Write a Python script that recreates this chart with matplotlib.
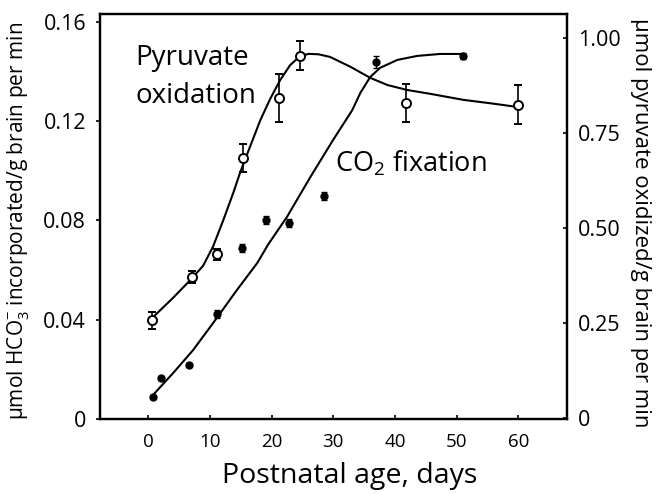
import matplotlib
matplotlib.use("Agg")
import matplotlib.pyplot as plt

plt.rcParams['font.family'] = ['Open Sans', 'DejaVu Sans']
plt.rcParams['mathtext.fontset'] = 'custom'
plt.rcParams['mathtext.rm'] = 'Open Sans'
plt.rcParams['mathtext.it'] = 'Open Sans:italic'

# ----------------------------
# Data
# ----------------------------
# CO2 fixation (filled circles, left axis, umol HCO3- / g brain / min)
co2_days = [0.8, 2.1, 6.7, 11.2, 15.2, 19.1, 22.9, 28.5, 37.0, 51.0]
co2_vals = [0.0089, 0.0165, 0.0218, 0.0423, 0.0689, 0.0802, 0.0790, 0.0899, 0.1439, 0.1462]
co2_err = [0.0008, 0.0008, 0.0008, 0.0015, 0.0015, 0.0015, 0.0015, 0.0016, 0.0025, 0.0013]

# fitted curve for CO2 fixation
co2_curve_days = [0.8, 4.05, 7.3, 10.9, 14.4, 17.7, 19.5, 22.5, 26.3, 30.0, 33.1, 34.4, 36.0,
                  37.6, 40.4, 43.6, 47.3, 51.1]
co2_curve_vals = [0.0097, 0.0185, 0.0278, 0.0399, 0.0520, 0.0629, 0.0705, 0.0814, 0.0975, 0.1125,
                  0.1245, 0.1314, 0.1378, 0.1415, 0.1447, 0.1463, 0.1471, 0.1471]

# Pyruvate oxidation (open circles, right axis, umol pyruvate / g brain / min)
pyr_days = [0.6, 7.1, 11.2, 15.3, 21.2, 24.6, 41.8, 60.0]
pyr_vals = [0.257, 0.370, 0.430, 0.684, 0.842, 0.953, 0.829, 0.824]
pyr_err = [0.022, 0.016, 0.014, 0.038, 0.064, 0.038, 0.050, 0.051]

# fitted curve for pyruvate oxidation
pyr_curve_days = [0.6, 4.05, 6.8, 8.9, 10.5, 12.2, 13.8, 14.9, 16.5, 18.2, 19.8, 21.4, 23.0, 24.6,
                  26.0, 27.6, 29.5, 32.8, 36.0, 38.8, 42.0, 45.7, 51.1, 55.5, 60.0]
pyr_curve_vals = [0.262, 0.316, 0.362, 0.400, 0.450, 0.521, 0.592, 0.645, 0.713, 0.784, 0.840, 0.889,
                  0.928, 0.952, 0.958, 0.957, 0.950, 0.924, 0.895, 0.876, 0.863, 0.853,
                  0.837, 0.828, 0.818]

xticks = [0, 10, 20, 30, 40, 50, 60]
left_ticks = [0, 0.04, 0.08, 0.12, 0.16]
left_labels = ["0", "0.04", "0.08", "0.12", "0.16"]
right_ticks = [0, 0.25, 0.5, 0.75, 1.0]
right_labels = ["0", "0.25", "0.50", "0.75", "1.00"]

# ----------------------------
# Plot
# ----------------------------
fig = plt.figure(figsize=(6.61, 4.94), dpi=100)
ax = fig.add_axes([100 / 661, 1 - 419 / 494, 467 / 661, 405 / 494])
ax2 = ax.twinx()

ax.plot(co2_curve_days, co2_curve_vals, color='black', linewidth=1.5)
ax.errorbar(co2_days, co2_vals, yerr=co2_err, fmt='o', color='black', markersize=5,
            capsize=2, elinewidth=1, capthick=1)

ax2.plot(pyr_curve_days, pyr_curve_vals, color='black', linewidth=1.5)
ax2.errorbar(pyr_days, pyr_vals, yerr=pyr_err, fmt='o', color='black', markerfacecolor='white',
             markeredgecolor='black', markeredgewidth=1.4, markersize=6.5, capsize=3,
             elinewidth=1.2, capthick=1.2)

ax.set_xlim(-7.8, 67.9)
ax.set_ylim(0, 0.1632)
ax2.set_ylim(-0.003, 1.063)

ax.set_xticks(xticks)
ax.set_yticks(left_ticks)
ax.set_yticklabels(left_labels)
ax2.set_yticks(right_ticks)
ax2.set_yticklabels(right_labels)

ax.tick_params(axis='x', direction='in', length=3, width=1.2, labelsize=13.5, pad=10)
ax.tick_params(axis='y', direction='out', length=3, width=1.2, labelsize=15.5, pad=7)
ax2.tick_params(axis='y', direction='in', length=3, width=1.2, labelsize=15.5, pad=8)

for a in (ax, ax2):
    for s in a.spines.values():
        s.set_linewidth(1.6)

ax.set_xlabel("Postnatal age, days", fontsize=20.5)
ax.xaxis.label.set_va('baseline')
ax.xaxis.set_label_coords(0.535, -0.158)

ax.set_ylabel("µmol HCO$\\mathregular{_3^{-}}$ incorporated/g brain per min", fontsize=15)
ax.yaxis.label.set_va('center')
ax.yaxis.set_label_coords(-0.176, 0.488)

ax2.set_ylabel("µmol pyruvate oxidized/g brain per min", fontsize=16)
ax2.yaxis.label.set_rotation(270)
ax2.yaxis.label.set_va('center')
ax2.yaxis.set_label_coords(1.158, 0.484)

ax.text(-2.1, 0.1427, "Pyruvate", fontsize=20, va='baseline', ha='left')
ax.text(-2.1, 0.1274, "oxidation", fontsize=20, va='baseline', ha='left')
ax.text(30.3, 0.0996, "CO$\\mathregular{_2}$ fixation", fontsize=19.5, va='baseline', ha='left')

fig.savefig("out.png", dpi=100)
